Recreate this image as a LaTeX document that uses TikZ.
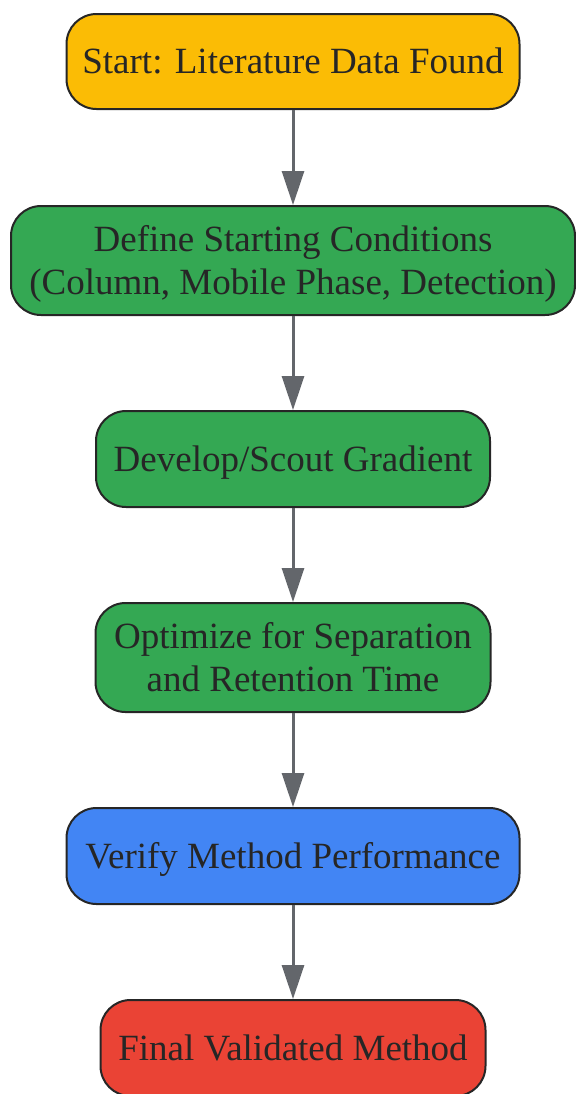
\documentclass[tikz,border=0pt]{standalone}
\usepackage{fontspec}
\setmainfont{Liberation Serif}
\usetikzlibrary{arrows.meta}
\definecolor{startyellow}{HTML}{FBBC05}
\definecolor{stepgreen}{HTML}{34A853}
\definecolor{checkblue}{HTML}{4285F4}
\definecolor{endred}{HTML}{EA4335}
\definecolor{linegray}{HTML}{63666B}
\definecolor{textdark}{HTML}{262626}
\begin{document}
\begin{tikzpicture}[x=0.5pt,y=-0.5pt,
		box/.style = {draw=textdark, line width=1pt, rounded corners=15pt, align=center,
			text=textdark, font=\fontsize{18.5}{21.5}\selectfont, inner sep=0pt,
			text height=12.2pt, text depth=0pt},
		twoline/.style = {text height=33.7pt},
		flow/.style = {draw=linegray, line width=1.5pt, -{Triangle[length=17pt,width=11pt]}}]
			\useasboundingbox (0,0) rectangle (575,1094);
			\node[box, fill=startyellow, minimum width=226.5pt, minimum height=47.5pt] (start) at (293,61.5) {Start: Literature Data Found};
			\node[box, twoline, fill=stepgreen, minimum width=282pt, minimum height=54.5pt] (define) at (293,260.5) {Define Starting Conditions\\(Column, Mobile Phase, Detection)};
			\node[box, fill=stepgreen, minimum width=197pt, minimum height=48pt] (scout) at (293,459) {Develop/Scout Gradient};
			\node[box, twoline, fill=stepgreen, minimum width=197.5pt, minimum height=54.5pt] (optimize) at (293,657.5) {Optimize for Separation\\and Retention Time};
			\node[box, fill=checkblue, minimum width=226.5pt, minimum height=48pt] (verify) at (293,856) {Verify Method Performance};
			\node[box, fill=endred, minimum width=192.5pt, minimum height=48pt] (final) at (293,1048) {Final Validated Method};

			\draw[flow] (start) -- (define);
			\draw[flow] (define) -- (scout);
			\draw[flow] (scout) -- (optimize);
			\draw[flow] (optimize) -- (verify);
			\draw[flow] (verify) -- (final);
		\end{tikzpicture}
\end{document}
